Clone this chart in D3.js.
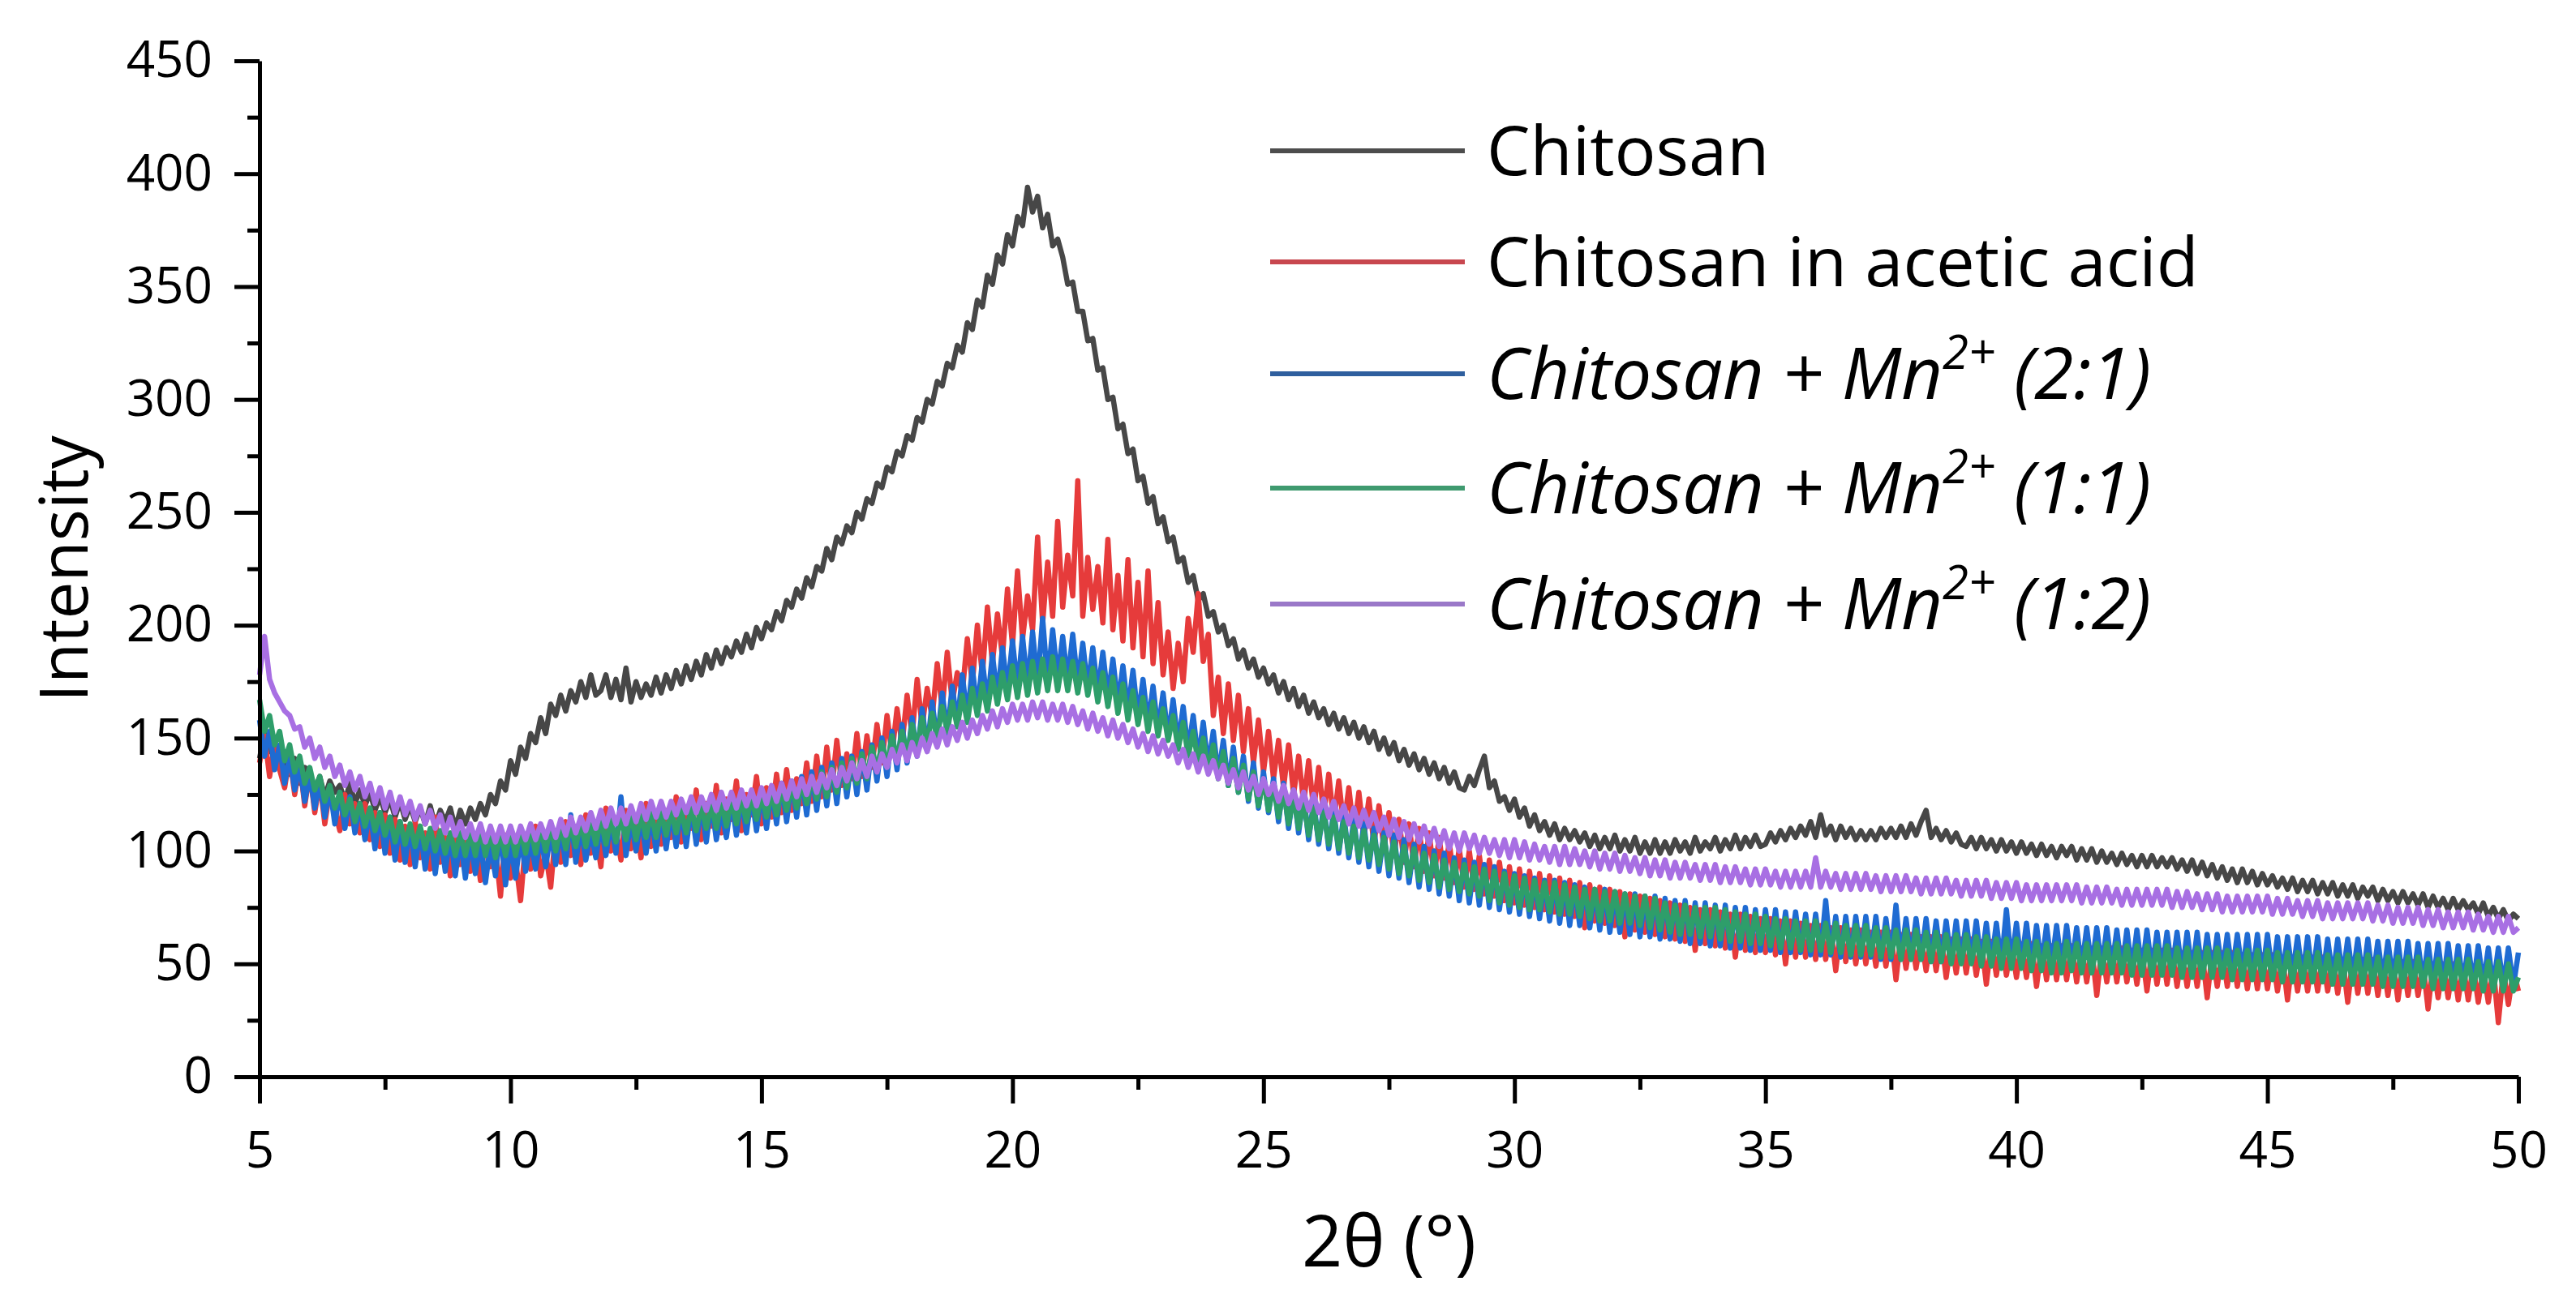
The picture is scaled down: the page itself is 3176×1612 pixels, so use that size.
<!DOCTYPE html>
<html>
<head>
<meta charset="utf-8">
<script src="https://cdn.jsdelivr.net/npm/d3@7"></script>
<style>
  body { margin: 0; background: #fff; }
  svg { display: block; font-family: "Open Sans", "DejaVu Sans", sans-serif; }
</style>
</head>
<body>
<div id="chart"></div>
<script>
const width = 3176;
const height = 1612;

// 2theta scan: 5.0 .. 50.0 deg, 0.1 deg steps (451 points per pattern)
const angleStart = 5;
const angleEnd = 50;

const seriesNames = ["Chitosan", "Chitosan in acetic acid", "Chitosan + Mn2+ (2:1)", "Chitosan + Mn2+ (1:1)", "Chitosan + Mn2+ (1:2)"];
const seriesColors = ["#474747", "#e63b3b", "#1f6bd2", "#2e9e6a", "#a86fe3"];
const legendColors = ["#4d4d4d", "#c8474f", "#2f5f9e", "#3f9a6f", "#9a78c8"];

const chitosan = [
  141,152,144,147,136,143,134,141,130,137,135,127,133,124,131,126,129,122,130,121,
  127,120,126,118,124,117,123,115,122,114,120,113,119,112,120,111,118,113,119,110,
  118,112,119,114,121,116,125,121,131,127,140,134,146,141,152,148,159,152,165,160,
  169,162,171,166,175,168,178,169,171,178,168,176,167,181,166,175,168,174,169,177,
  170,178,172,180,174,182,176,184,178,187,181,189,183,190,186,193,188,196,190,199,
  194,201,198,206,202,211,208,216,212,221,217,226,224,234,229,239,236,244,241,250,
  247,256,254,263,261,270,268,277,275,284,282,292,290,300,298,308,306,316,314,324,
  321,334,331,344,341,355,351,364,360,373,368,381,377,394,383,390,376,382,368,371,
  363,351,352,339,339,326,327,313,314,300,301,287,289,276,278,264,266,254,257,245,
  248,237,239,228,230,219,222,211,214,204,206,197,200,191,194,185,189,181,185,177,
  181,174,178,170,175,167,172,164,169,161,166,159,163,156,161,154,159,152,157,150,
  155,148,153,145,150,143,148,140,145,138,143,136,141,134,139,132,137,130,135,128,
  127,133,129,136,142,128,131,122,124,118,123,115,119,111,116,109,113,107,112,105,
  110,105,109,104,108,102,107,101,106,101,107,100,105,100,106,99,104,99,105,99,
  104,99,105,100,104,99,106,100,104,101,106,100,105,101,107,101,106,102,107,102,
  103,108,104,109,105,110,106,111,107,113,106,116,107,111,105,111,106,110,105,109,
  105,109,105,110,106,110,106,111,106,112,107,113,118,106,110,105,109,104,108,103,
  102,106,101,106,101,105,100,105,100,104,99,104,99,103,98,103,98,102,97,102,
  98,102,96,101,96,101,95,100,95,99,94,99,94,98,93,98,93,98,93,97,
  93,97,92,96,91,96,90,95,89,94,88,93,87,92,86,92,86,91,85,90,
  85,89,84,88,83,88,82,87,82,87,81,86,81,86,80,85,80,85,79,84,
  80,84,78,83,78,82,77,82,77,81,76,81,75,80,75,79,74,79,74,78,
  74,77,72,77,71,75,70,74,69,72,70
];

const aceticAcid = [
  139,151,133,147,136,128,142,125,139,120,135,117,131,112,127,118,109,125,112,121,
  108,121,105,117,102,116,99,114,96,111,94,113,97,108,92,115,95,106,89,110,
  94,108,91,105,87,106,93,101,80,107,88,96,78,104,92,111,89,99,84,109,
  95,113,98,110,94,116,99,108,93,119,100,109,96,118,101,112,97,121,102,114,
  103,118,106,124,104,119,110,127,105,121,111,129,108,123,114,131,109,125,116,133,
  112,128,115,134,117,136,118,132,121,139,122,142,124,146,127,149,129,143,132,152,
  133,151,137,156,139,160,143,163,147,169,151,176,155,172,159,183,163,188,166,179,
  170,194,174,200,178,208,183,205,186,216,191,224,194,213,198,239,201,228,204,246,
  208,231,213,264,204,230,207,226,201,238,198,222,193,229,190,219,186,224,183,210,
  178,197,172,192,175,203,188,214,184,196,160,177,152,174,149,169,144,163,139,158,
  135,153,132,149,128,147,125,142,121,140,118,137,116,134,113,131,111,128,108,126,
  106,123,103,120,101,117,98,114,95,112,93,110,91,108,89,106,88,104,86,101,
  84,100,83,98,81,96,80,95,78,93,77,92,76,91,75,90,74,89,73,88,
  72,87,71,86,66,85,69,84,68,83,67,82,62,81,65,80,64,79,63,78,
  62,77,61,76,60,75,56,74,59,74,58,73,57,72,53,72,56,71,55,70,
  55,70,54,69,50,69,53,68,53,67,52,67,52,66,47,66,51,65,50,65,
  50,64,49,64,49,64,43,63,48,63,48,62,47,62,47,62,44,61,46,61,
  46,61,45,60,41,60,45,60,45,59,44,59,44,59,40,58,43,58,43,58,
  43,58,42,57,42,57,36,57,42,57,42,57,42,56,41,56,38,56,41,56,
  41,56,40,55,40,55,40,55,35,55,40,55,40,55,40,54,39,54,39,54,
  39,54,38,53,34,53,38,53,38,53,38,53,38,52,37,52,33,52,37,52,
  37,52,36,51,36,51,34,51,36,51,36,50,30,50,35,50,35,50,34,49,
  34,49,33,48,33,48,24,47,32,47,38
];

const mn21 = [
  158,142,153,136,147,130,142,127,138,122,134,119,131,115,128,112,126,110,124,108,
  121,105,118,101,117,99,115,96,113,95,111,93,110,92,109,90,108,91,107,89,
  106,88,105,90,104,86,103,89,110,85,104,88,106,91,105,92,107,93,108,94,
  110,94,116,95,111,96,109,97,112,98,113,99,124,98,114,100,115,99,116,100,
  117,101,118,102,119,102,120,103,121,104,122,105,118,106,123,107,124,108,125,109,
  126,110,127,112,130,113,131,115,133,116,135,118,137,120,139,121,141,124,142,125,
  144,127,147,131,150,133,153,136,156,139,159,142,163,145,166,148,170,152,173,156,
  178,159,181,162,184,165,187,168,190,171,193,172,195,173,197,174,203,175,198,176,
  195,175,196,174,192,172,190,170,188,168,185,165,182,162,180,159,176,156,173,153,
  170,150,167,147,164,144,160,140,157,137,153,133,149,129,146,126,142,122,139,119,
  135,117,132,113,130,110,127,108,125,105,122,103,120,101,118,99,116,97,114,95,
  112,93,110,91,108,89,107,88,105,86,103,84,102,83,100,81,99,80,97,78,
  96,77,95,76,94,75,93,74,91,73,90,72,89,71,88,70,87,69,87,68,
  86,67,85,67,84,66,83,65,83,64,82,64,81,63,81,62,80,62,80,61,
  79,61,78,60,78,59,77,59,77,58,76,58,76,57,75,57,75,56,74,56,
  74,56,74,55,73,55,73,55,72,54,72,54,78,54,71,53,71,53,71,53,
  71,53,71,52,70,52,76,52,70,52,70,52,70,51,69,51,69,51,69,51,
  69,51,69,50,68,50,68,50,74,50,68,50,68,49,67,49,67,49,67,49,
  67,49,66,48,66,48,66,48,66,48,65,47,65,47,65,47,65,47,64,47,
  64,47,64,46,64,46,64,46,63,46,63,46,63,46,63,46,63,45,63,45,
  63,45,62,45,62,45,62,44,62,44,62,44,61,44,61,44,61,44,61,43,
  61,43,60,43,60,43,60,42,60,42,59,42,59,42,59,41,59,41,58,41,
  58,41,58,41,57,40,57,40,57,40,55
];

const mn11 = [
  167,153,160,147,153,140,147,135,142,130,137,127,133,122,129,119,126,116,123,113,
  121,111,119,109,117,107,115,104,113,103,112,102,111,101,110,100,109,99,108,98,
  108,98,108,98,109,98,108,97,108,98,109,98,109,99,110,99,110,100,111,100,
  111,101,112,102,113,102,113,103,114,103,114,104,115,105,116,105,116,106,117,106,
  117,107,118,108,118,108,119,109,120,110,121,110,122,111,123,112,123,113,124,114,
  125,115,126,116,128,118,129,119,131,121,133,123,135,124,137,126,139,128,141,130,
  143,132,146,135,148,137,151,140,153,142,156,145,159,147,161,150,164,153,166,155,
  169,157,172,160,174,162,177,165,179,167,182,168,183,169,184,170,185,171,186,171,
  185,171,184,170,183,169,181,166,179,164,177,161,174,158,171,156,168,153,166,151,
  163,149,160,145,157,142,153,139,150,135,147,132,144,129,141,126,138,123,135,120,
  132,118,129,115,127,112,124,110,122,107,119,105,117,103,115,101,113,99,111,97,
  109,96,107,94,106,92,104,90,102,89,101,87,99,86,98,84,96,83,95,82,
  94,81,93,80,92,78,91,77,90,76,89,75,88,74,87,74,86,73,86,72,
  85,72,84,71,83,70,83,69,82,69,82,68,81,68,80,67,80,66,79,65,
  77,64,76,63,76,63,75,62,75,62,75,61,74,60,73,60,72,59,72,59,
  71,58,70,57,70,57,69,56,69,56,69,56,68,55,68,55,67,54,67,54,
  67,54,66,53,66,53,65,52,65,52,65,52,64,51,64,51,63,50,63,50,
  63,50,62,49,62,49,61,48,61,48,61,48,60,47,60,47,59,46,59,46,
  60,47,59,46,59,46,59,46,59,46,59,46,58,45,58,45,58,45,58,45,
  58,45,57,44,57,44,57,44,57,44,57,44,56,43,56,43,56,43,56,43,
  56,43,55,42,55,42,55,42,55,42,55,42,54,41,54,41,54,41,54,41,
  54,41,53,40,53,40,53,40,53,40,53,40,52,39,52,39,52,39,52,39,
  52,39,51,38,51,38,51,38,50,38,44
];

const mn12 = [
  178,195,176,170,166,162,160,154,155,146,150,141,146,137,142,133,138,129,135,127,
  133,124,130,121,128,119,126,117,124,116,122,114,120,112,118,110,116,108,115,107,
  113,106,112,105,112,104,111,104,111,104,111,104,111,105,112,105,112,106,113,106,
  114,107,115,108,115,109,117,110,118,111,119,112,119,112,120,113,121,114,122,115,
  122,115,122,116,123,117,124,117,124,118,125,118,126,119,126,119,127,120,127,120,
  128,121,129,122,130,123,131,124,132,125,133,126,134,128,136,129,137,131,139,132,
  140,133,142,135,143,137,145,139,147,140,148,142,150,144,152,146,154,147,155,149,
  157,150,158,152,160,154,162,155,163,157,165,158,165,158,166,159,166,158,165,158,
  165,157,164,156,162,154,161,153,159,151,158,150,156,148,154,146,152,144,151,143,
  149,142,147,139,145,137,143,135,142,134,140,132,138,130,136,128,135,127,133,125,
  132,125,130,122,129,121,127,119,126,118,125,117,123,115,122,114,120,112,119,111,
  118,111,117,109,115,107,114,106,113,105,112,104,111,103,110,102,109,101,108,100,
  108,101,107,99,106,99,105,98,105,97,105,97,104,96,103,96,102,95,102,94,
  102,94,101,94,100,93,100,92,99,92,99,91,98,91,97,90,97,89,96,89,
  96,88,95,88,95,88,94,87,94,87,94,86,93,86,93,86,92,85,92,85,
  92,85,91,84,91,84,91,84,91,84,97,84,91,84,90,83,90,83,90,83,
  90,83,89,82,89,82,89,82,89,82,88,81,88,81,88,81,88,81,87,80,
  87,80,87,80,87,79,86,79,86,79,86,78,85,78,85,78,85,78,85,78,
  85,78,85,77,84,77,84,77,84,77,83,76,83,76,83,76,83,76,83,76,
  83,75,82,75,82,75,81,74,81,74,81,73,80,73,80,73,80,73,80,73,
  80,72,79,72,79,72,78,71,78,71,78,70,77,70,77,70,77,70,77,70,
  77,69,76,69,76,68,75,68,75,68,75,67,74,67,74,66,73,66,73,66,
  73,65,72,65,71,64,71,64,71,64,66
];

const allSeries = [chitosan, aceticAcid, mn21, mn11, mn12];

const xTicks = [5, 10, 15, 20, 25, 30, 35, 40, 45, 50];
const xMinorTicks = [7.5, 12.5, 17.5, 22.5, 27.5, 32.5, 37.5, 42.5, 47.5];
const yTicks = [0, 50, 100, 150, 200, 250, 300, 350, 400, 450];
const yMinorTicks = [25, 75, 125, 175, 225, 275, 325, 375, 425];

const margin = { left: 320, right: 71, top: 75, bottom: 284 };

const x = d3.scaleLinear()
  .domain([angleStart, angleEnd])
  .range([margin.left, width - margin.right]);

const y = d3.scaleLinear()
  .domain([0, 450])
  .range([height - margin.bottom, margin.top]);

const svg = d3.select("#chart")
  .append("svg")
  .attr("width", width)
  .attr("height", height);

svg.append("rect")
  .attr("width", width)
  .attr("height", height)
  .attr("fill", "#fff");

function angleAt(i, n) {
  return angleStart + i * (angleEnd - angleStart) / (n - 1);
}

svg.selectAll(".pattern")
  .data(allSeries)
  .enter()
  .append("path")
  .classed("pattern", true)
  .attr("d", function(d) {
    return d3.line()
      .x(function(v, i) { return x(angleAt(i, d.length)); })
      .y(function(v) { return y(v); })(d);
  })
  .attr("fill", "none")
  .attr("stroke", function(d, i) { return seriesColors[i]; })
  .attr("stroke-width", 6.5)
  .attr("stroke-linejoin", "round");

// axes
svg.append("g")
  .attr("transform", "translate(0," + y(0) + ")")
  .call(d3.axisBottom(x).tickValues(xTicks).tickSize(33).tickSizeOuter(0).tickPadding(35));

svg.append("g")
  .attr("transform", "translate(0," + y(0) + ")")
  .call(d3.axisBottom(x).tickValues(xMinorTicks).tickSize(16).tickSizeOuter(0).tickFormat(""))
  .select(".domain").remove();

svg.append("g")
  .attr("transform", "translate(" + x(5) + ",0)")
  .call(d3.axisLeft(y).tickValues(yTicks).tickSize(31).tickSizeOuter(0).tickPadding(27));

svg.append("g")
  .attr("transform", "translate(" + x(5) + ",0)")
  .call(d3.axisLeft(y).tickValues(yMinorTicks).tickSize(15).tickSizeOuter(0).tickFormat(""))
  .select(".domain").remove();

svg.selectAll(".domain, .tick line")
  .attr("stroke", "#000")
  .attr("stroke-width", 5);

svg.selectAll(".tick text")
  .attr("font-family", "'Open Sans', sans-serif")
  .attr("font-size", 62)
  .attr("fill", "#000");

// axis titles
svg.append("text")
  .attr("x", (x(5) + x(50)) / 2)
  .attr("y", 1562)
  .attr("text-anchor", "middle")
  .attr("font-size", 88)
  .text("2θ (°)");

svg.append("text")
  .attr("transform", "translate(108," + y(225) + ") rotate(-90)")
  .attr("text-anchor", "middle")
  .attr("font-size", 82)
  .text("Intensity");

// legend
const legendY = [186, 323, 461, 602, 745];

const legend = svg.selectAll(".legend")
  .data(seriesNames)
  .enter()
  .append("g")
  .classed("legend", true)
  .attr("transform", function(d, i) { return "translate(1566," + legendY[i] + ")"; });

legend.append("line")
  .attr("x1", 0)
  .attr("x2", 240)
  .attr("stroke", function(d, i) { return legendColors[i]; })
  .attr("stroke-width", 6);

legend.append("text")
  .attr("x", 267)
  .attr("y", 30)
  .attr("font-size", 85)
  .attr("fill", "#000")
  .each(function(d, i) {
    const t = d3.select(this);
    if (i < 2) {
      t.text(d);
      return;
    }
    t.attr("font-style", "italic").attr("font-size", 88).attr("y", 31);
    t.append("tspan").text("Chitosan + Mn");
    t.append("tspan").attr("dy", -37).attr("font-size", 58).text("2+");
    t.append("tspan").attr("dy", 37).text(" " + d.split(" ").pop());
  });
</script>
</body>
</html>
